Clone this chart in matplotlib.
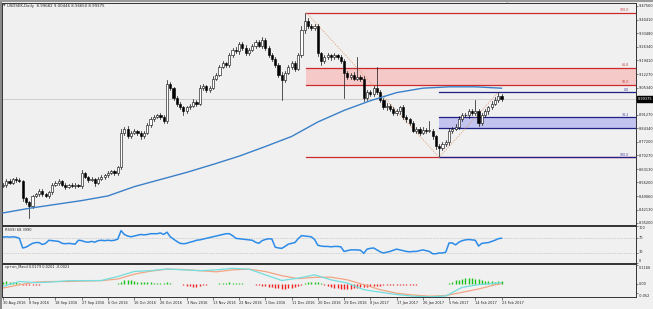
import matplotlib
matplotlib.use("Agg")
import matplotlib.pyplot as plt
from matplotlib.patches import Rectangle

# ---- data (USDSEK daily) ----
first_open = 8.545
close = [
    8.550, 8.570, 8.560, 8.580, 8.575, 8.570, 8.480, 8.460, 8.440, 8.490,
    8.500, 8.520, 8.500, 8.490, 8.510, 8.550, 8.560, 8.570, 8.550, 8.540,
    8.550, 8.545, 8.550, 8.545, 8.610, 8.590, 8.575, 8.580, 8.560, 8.580,
    8.590, 8.600, 8.610, 8.620, 8.610, 8.640, 8.820, 8.840, 8.800, 8.820,
    8.830, 8.820, 8.800, 8.820, 8.860, 8.890, 8.900, 8.910, 8.900, 8.880,
    9.070, 9.050, 9.000, 8.970, 8.950, 8.930, 8.950, 8.960, 8.980, 8.970,
    9.050, 9.060, 9.040, 9.050, 9.100, 9.120, 9.160, 9.180, 9.170, 9.220,
    9.250, 9.240, 9.280, 9.260, 9.230, 9.250, 9.270, 9.290, 9.270, 9.300,
    9.260, 9.220, 9.200, 9.170, 9.120, 9.090, 9.130, 9.160, 9.180, 9.150,
    9.220, 9.350, 9.400, 9.370, 9.360, 9.370, 9.230, 9.190, 9.210, 9.220,
    9.210, 9.220, 9.210, 9.190, 9.130, 9.110, 9.120, 9.100, 9.110, 9.100,
    9.000, 9.030, 9.020, 9.050, 9.030, 8.990, 8.950, 8.960, 8.940, 8.920,
    8.930, 8.950, 8.900, 8.890, 8.870, 8.830, 8.840, 8.820, 8.835, 8.830,
    8.830, 8.800, 8.750, 8.740, 8.760, 8.770, 8.830, 8.840, 8.850, 8.890,
    8.910, 8.910, 8.930, 8.920, 8.930, 8.870, 8.910, 8.930, 8.950, 8.970,
    8.990, 9.010, 8.99375,
]
# wick lengths beyond the body, in 0.001
wick_up = [
    10, 8, 12, 6, 10, 8, 5, 6, 8, 6,
    8, 10, 6, 8, 6, 10, 8, 12, 6, 8,
    6, 8, 10, 6, 14, 8, 6, 10, 6, 8,
    8, 6, 10, 8, 6, 8, 20, 10, 14, 8,
    10, 6, 8, 10, 8, 12, 10, 8, 12, 10,
    20, 12, 8, 10, 8, 6, 10, 8, 12, 10,
    14, 10, 8, 10, 12, 8, 12, 10, 8, 14,
    10, 12, 10, 8, 12, 10, 8, 10, 12, 14,
    10, 8, 12, 10, 8, 14, 10, 8, 12, 10,
    14, 20, 40, 12, 10, 14, 10, 8, 10, 12,
    8, 10, 8, 12, 10, 10, 8, 12, 100, 10,
    14, 10, 12, 10, 110, 8, 10, 12, 8, 10,
    12, 10, 14, 10, 8, 12, 10, 8, 12, 10,
    50, 10, 8, 12, 10, 12, 14, 10, 12, 14,
    10, 12, 10, 12, 60, 14, 10, 12, 10, 14,
    12, 20, 12,
]
wick_dn = [
    8, 10, 6, 8, 10, 6, 12, 10, 60, 8,
    6, 10, 8, 6, 10, 8, 6, 10, 8, 12,
    8, 6, 10, 8, 10, 6, 12, 8, 16, 8,
    6, 10, 8, 6, 10, 8, 6, 10, 8, 10,
    8, 10, 12, 8, 6, 10, 8, 6, 10, 8,
    10, 8, 10, 12, 10, 20, 8, 10, 6, 12,
    8, 10, 12, 8, 6, 10, 8, 6, 12, 8,
    10, 8, 12, 10, 8, 10, 6, 12, 8, 10,
    12, 10, 8, 12, 14, 100, 10, 8, 12, 10,
    8, 10, 12, 10, 8, 10, 12, 20, 8, 10,
    12, 8, 10, 12, 130, 10, 12, 8, 10, 12,
    14, 10, 8, 12, 10, 14, 8, 12, 10, 8,
    10, 12, 8, 14, 10, 8, 12, 10, 8, 10,
    8, 12, 14, 40, 10, 8, 12, 10, 8, 12,
    10, 8, 12, 10, 8, 14, 10, 8, 12, 10,
    8, 12, 10,
]

ma_idx = [0, 8, 16, 24, 32, 40, 48, 56, 64, 72, 80, 88, 96, 104, 112, 120, 128, 136, 144, 152]
ma_val = [8.404, 8.428, 8.448, 8.468, 8.492, 8.540, 8.577, 8.614, 8.655, 8.698,
          8.748, 8.800, 8.875, 8.935, 8.985, 9.027, 9.050, 9.057, 9.057, 9.050]

rsi = [
    71, 72, 71, 72, 71, 68, 43, 45, 50, 55,
    57, 57, 52, 55, 63, 62, 61, 60, 55, 54,
    55, 54, 53, 63, 62, 59, 58, 60, 58, 62,
    63, 62, 63, 62, 63, 66, 88, 78, 74, 72,
    74, 76, 78, 77, 78, 80, 80, 80, 82, 78,
    84, 72, 66, 60, 55, 54, 55, 58, 60, 63,
    64, 66, 68, 70, 72, 74, 76, 78, 80, 80,
    75, 68, 67, 66, 65, 64, 63, 58, 55, 62,
    65, 67, 66, 45, 43, 42, 47, 53, 55, 57,
    67, 75, 74, 73, 72, 65, 50, 48, 47, 47,
    46, 47, 47, 46, 34, 36, 38, 38, 38, 37,
    29, 40, 42, 43, 38, 33, 30, 32, 34, 37,
    40, 38, 36, 34, 33, 34, 34, 36, 38, 36,
    34, 28, 28, 30, 30, 32, 56, 56, 51, 58,
    62, 64, 65, 64, 63, 48, 55, 56, 57, 60,
    63, 67, 68.4,
]

macd_idx = [0, 5, 10, 15, 20, 25, 30, 35, 40, 45, 50, 55, 60, 65, 70, 75,
            80, 85, 90, 95, 100, 105, 110, 115, 120, 125, 130, 135, 140, 145, 150, 152]
macd_main = [-0.014, 0.015, 0.008, 0.012, 0.020, 0.020, 0.021, 0.045, 0.075, 0.080,
             0.090, 0.085, 0.080, 0.085, 0.094, 0.089, 0.055, 0.021, 0.035, 0.055,
             0.025, 0.006, -0.034, -0.049, -0.063, -0.073, -0.077, -0.072, -0.020, -0.004,
             0.004, 0.008]
macd_signal = [-0.024, -0.005, 0.012, 0.015, 0.015, 0.018, 0.020, 0.030, 0.059, 0.077,
               0.089, 0.087, 0.080, 0.073, 0.085, 0.089, 0.075, 0.050, 0.032, 0.040,
               0.041, 0.025, -0.004, -0.034, -0.055, -0.066, -0.073, -0.069, -0.050, -0.030,
               -0.005, 0.002]
# histogram, in 0.001
macd_hist = [
    14, 16, 15, 13, 10, 6, -4, -6, -6, -5,
    -4, -3, -2, -1, 1, 1, 1, 2, 1, 1,
    0, 1, 1, 2, 2, 1, 1, 0, -1, 1,
    1, 2, 2, 2, 3, 4, 14, 22, 24, 22,
    18, 15, 13, 12, 11, 10, 9, 8, 8, 9,
    10, 6, 3, 1, -2, -6, -10, -14, -16, -15,
    -12, -8, -5, -2, 1, 3, 5, 7, 9, 10,
    9, 8, 6, 4, 2, 1, -1, -3, -6, -9,
    -12, -15, -18, -22, -25, -27, -28, -26, -22, -17,
    -12, -6, 6, 12, 14, 13, 10, 4, -5, -12,
    -18, -22, -25, -27, -28, -28, -27, -25, -22, -19,
    -17, -15, -13, -11, -10, -9, -8, -7, -6, -6,
    -5, -5, -4, -4, -3, -3, -3, -2, -2, -2,
    -2, -1, -1, -1, -1, 1, 5, 14, 22, 27,
    31, 34, 35, 34, 32, 29, 25, 21, 18, 16,
    15, 16, 18,
]

date_labels = ["30 Aug 2016", "8 Sep 2016", "18 Sep 2016", "27 Sep 2016", "6 Oct 2016",
               "16 Oct 2016", "26 Oct 2016", "3 Nov 2016", "13 Nov 2016", "22 Nov 2016",
               "1 Dec 2016", "11 Dec 2016", "20 Dec 2016", "29 Dec 2016", "8 Jan 2017",
               "17 Jan 2017", "26 Jan 2017", "5 Feb 2017", "14 Feb 2017", "23 Feb 2017"]
price_ticks = [9.47560, 9.40410, 9.33480, 9.26340, 9.19410, 9.12270, 9.05340,
               8.91270, 8.84340, 8.77200, 8.70270, 8.63130, 8.56200, 8.49060,
               8.42130, 8.35200]
last_price = 8.99375
rsi_labels = ["100", "70", "30", "0"]
macd_labels = ["0.1166", "0.00", "-0.052"]

# fibonacci levels drawn on the chart
red_fib = {"100.0": 9.441, "61.8": 9.155, "50.0": 9.0665, "0.0": 8.692}
blue_fib = {"0.0": 9.029, "38.2": 8.900, "50.0": 8.845, "100.0": 8.692}
red_start, low_bar, high_bar = 92.5, 133, 151

# ---- figure ----
W, H = 653, 309
BG = "#f0f0f0"
fig = plt.figure(figsize=(W / 100, H / 100), dpi=100, facecolor=BG)


def frac(x0, y0, x1, y1):
    return [x0 / W, 1 - y1 / H, (x1 - x0) / W, (y1 - y0) / H]


ax = fig.add_axes(frac(2, 3, 636, 225))
ax_rsi = fig.add_axes(frac(2, 226, 636, 263))
ax_macd = fig.add_axes(frac(2, 264, 636, 297))

FS = 2.5
for a in (ax, ax_rsi, ax_macd):
    a.set_facecolor(BG)
    a.set_xlim(-0.3, 193)
    for s in a.spines.values():
        s.set_color("#333333")
        s.set_linewidth(0.7)
    a.yaxis.tick_right()
    a.tick_params(axis="y", length=1.5, width=0.4, pad=0.6, labelsize=FS, colors="#222222")
    a.tick_params(axis="x", length=0, labelbottom=False)

# main price panel
ax.set_ylim(8.3415, 9.4911)
ax.set_yticks(price_ticks)
ax.set_yticklabels(["%.5f" % p for p in price_ticks])
ax.axhline(last_price, color="#c8c8c8", lw=0.6, zorder=1)

# zones
ax.add_patch(Rectangle((red_start, red_fib["50.0"]), 200, red_fib["61.8"] - red_fib["50.0"],
                       facecolor="#f6c9c9", edgecolor="none", zorder=1))
ax.add_patch(Rectangle((low_bar, blue_fib["50.0"]), 200, blue_fib["38.2"] - blue_fib["50.0"],
                       facecolor="#c3c3f0", edgecolor="none", zorder=1))

for k, v in red_fib.items():
    ax.plot([red_start, 193], [v, v], color="#cc2a2a", lw=0.9, zorder=2)
for k, v in blue_fib.items():
    ax.plot([low_bar, 193], [v, v], color="#1f1f88", lw=0.9, zorder=3)

for k in ("100.0", "61.8", "50.0"):
    ax.text(190.8, red_fib[k] + 0.003, k, color="#c04040", fontsize=2.3, ha="right", va="bottom")
for k in ("0.0", "38.2", "100.0"):
    ax.text(190.8, blue_fib[k] + 0.003, k, color="#4040a0", fontsize=2.3, ha="right", va="bottom")

# fib diagonals
ax.plot([red_start, low_bar], [red_fib["100.0"], red_fib["0.0"]], color="#e0a07a",
        lw=0.6, ls=(0, (1.5, 1.5)), zorder=4)
ax.plot([low_bar, high_bar], [blue_fib["100.0"], blue_fib["0.0"]], color="#e0a07a",
        lw=0.6, ls=(0, (1.5, 1.5)), zorder=4)

# candles
opens = [first_open] + close[:-1]
for i, (o, c) in enumerate(zip(opens, close)):
    hi = max(o, c) + wick_up[i] / 1000
    lo = min(o, c) - wick_dn[i] / 1000
    ax.plot([i, i], [lo, hi], color="#111111", lw=0.5, zorder=5)
    bottom = min(o, c)
    h = max(abs(c - o), 0.0015)
    ax.add_patch(Rectangle((i - 0.33, bottom), 0.66, h,
                           facecolor="white" if c >= o else "black",
                           edgecolor="black", lw=0.4, zorder=6))

ax.plot(ma_idx, ma_val, color="#3a80c8", lw=1.0, zorder=7)

# current price box
fig.text(637.5 / W, 1 - 99 / H, "%.5f" % last_price, fontsize=FS, color="white",
         va="center", ha="left",
         bbox=dict(boxstyle="square,pad=0.2", fc="black", ec="black"))

fig.text(7 / W, 1 - 5.5 / H, "USDSEK,Daily  8.99682 9.00446 8.96650 8.99375",
         fontsize=2.8, va="center", ha="left", color="#222222")
fig.text(3 / W, 1 - 5.5 / H, "\u25bc", fontsize=2.3, va="center", ha="left", color="#444444")
fig.text(507 / W, 1 - 2.5 / H, "\u25bc", fontsize=2.5, va="center", ha="center", color="#a0a0a0")

# RSI panel
ax_rsi.set_ylim(4, 100)
ax_rsi.set_yticks([100, 70, 30, 4])
ax_rsi.set_yticklabels([])
for lbl, y in zip(rsi_labels, [228, 238, 252, 261]):
    fig.text(638.5 / W, 1 - y / H, lbl, fontsize=FS, va="center", ha="left", color="#222222")
for lvl in (70, 30):
    ax_rsi.axhline(lvl, color="#b0b0b0", lw=0.5, ls=(0, (1, 1.5)))
ax_rsi.plot(range(len(rsi)), rsi, color="#2b8be8", lw=1.1)
ax_rsi.text(0.6, 96, "RSI(9) 68.3990", fontsize=FS, va="top", color="#222222")

# MACD panel
ax_macd.set_ylim(-0.078, 0.12)
ax_macd.set_yticks([0.1166, 0.0, -0.052])
ax_macd.set_yticklabels([])
for lbl, y in zip(macd_labels, [268, 284, 296]):
    fig.text(638.5 / W, 1 - y / H, lbl, fontsize=FS, va="center", ha="left", color="#222222")
for i, h in enumerate(macd_hist):
    v = h / 1000
    col = "#19c219" if v >= 0 else "#ee2020"
    if abs(v) < 0.0015:
        v = 0.0015 if v >= 0 else -0.0015
    ax_macd.plot([i, i], [0, v], color=col, lw=1.0, solid_capstyle="butt")
ax_macd.plot(macd_idx, macd_signal, color="#f2a584", lw=0.9)
ax_macd.plot(macd_idx, macd_main, color="#72dede", lw=0.9)
ax_macd.text(0.6, 0.112, "sp+on_Macd 0.0179 0.0201 -0.0021", fontsize=FS, va="top",
             color="#222222")

# time axis
ax_macd.set_xticks(range(0, 8 * len(date_labels), 8))
ax_macd.set_xticklabels(date_labels, ha="left")
ax_macd.tick_params(axis="x", length=2, width=0.4, direction="out", pad=1,
                    labelbottom=True, labelsize=FS, colors="#222222")

# window chrome
fig.add_artist(Rectangle((0, 0), 2 / W, 1, transform=fig.transFigure,
                         facecolor="#8a8a8a", edgecolor="none"))
fig.add_artist(Rectangle((0, 1 - 2 / H), 1, 2 / H, transform=fig.transFigure,
                         facecolor="#9a9a9a", edgecolor="none"))

fig.savefig("out.png", dpi=100, facecolor=BG)
